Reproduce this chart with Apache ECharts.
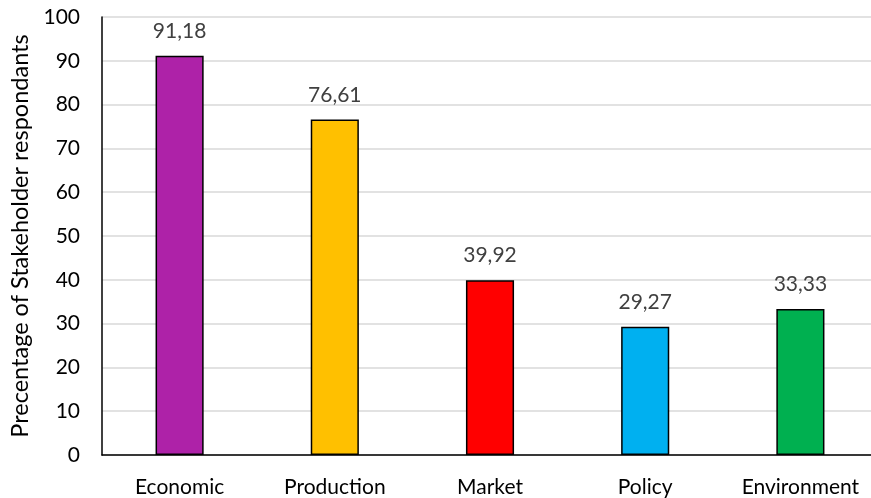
<!DOCTYPE html>
<html>
<head>
<meta charset="utf-8">
<script src="https://cdn.jsdelivr.net/npm/echarts@6/dist/echarts.min.js"></script>
<style>
  html, body { margin: 0; padding: 0; background: #fff; }
  #chart { width: 871px; height: 498px; }
</style>
</head>
<body>
<div id="chart"></div>
<script>
const categories = ['Economic', 'Production', 'Market', 'Policy', 'Environment'];
const values = [91.18, 76.61, 39.92, 29.27, 33.33];
const barColors = ['#AE22A8', '#FFC000', '#FF0000', '#00B0F0', '#00B050'];
const yTicks = { min: 0, max: 100, interval: 10 };
const yTitle = 'Precentage of Stakeholder respondants';

const font = 'Lato, "Open Sans", sans-serif';
const chart = echarts.init(document.getElementById('chart'), null, { renderer: 'canvas' });

chart.setOption({
  animation: false,
  grid: {
    left: 102, right: -7, top: 17, bottom: 43,
    containLabel: false,
    outerBoundsMode: 'none'
  },
  xAxis: {
    type: 'category',
    data: categories,
    axisLine: { lineStyle: { color: '#000', width: 1.5 } },
    axisTick: { show: false },
    axisLabel: { color: '#000', fontFamily: font, fontSize: 21, margin: 22, interval: 0, hideOverlap: false }
  },
  yAxis: {
    type: 'value',
    min: yTicks.min, max: yTicks.max, interval: yTicks.interval,
    name: yTitle,
    nameLocation: 'middle',
    nameGap: 70,
    nameTextStyle: { color: '#000', fontFamily: font, fontSize: 23.5 },
    axisLine: { show: true, lineStyle: { color: '#000', width: 1.5 } },
    axisTick: { show: false },
    axisLabel: { color: '#000', fontFamily: font, fontSize: 21, margin: 22 },
    splitLine: { lineStyle: { color: '#D9D9D9', width: 1.5 } }
  },
  series: [{
    type: 'bar',
    data: values.map((v, i) => ({ value: v, itemStyle: { color: barColors[i] } })),
    barWidth: '31%',
    itemStyle: { borderColor: '#000', borderWidth: 1.5 },
    label: {
      show: true,
      position: 'top',
      distance: 14,
      color: '#404040',
      fontFamily: font,
      fontSize: 21,
      formatter: p => p.value.toFixed(2).replace('.', ',')
    }
  }]
});
</script>
</body>
</html>
